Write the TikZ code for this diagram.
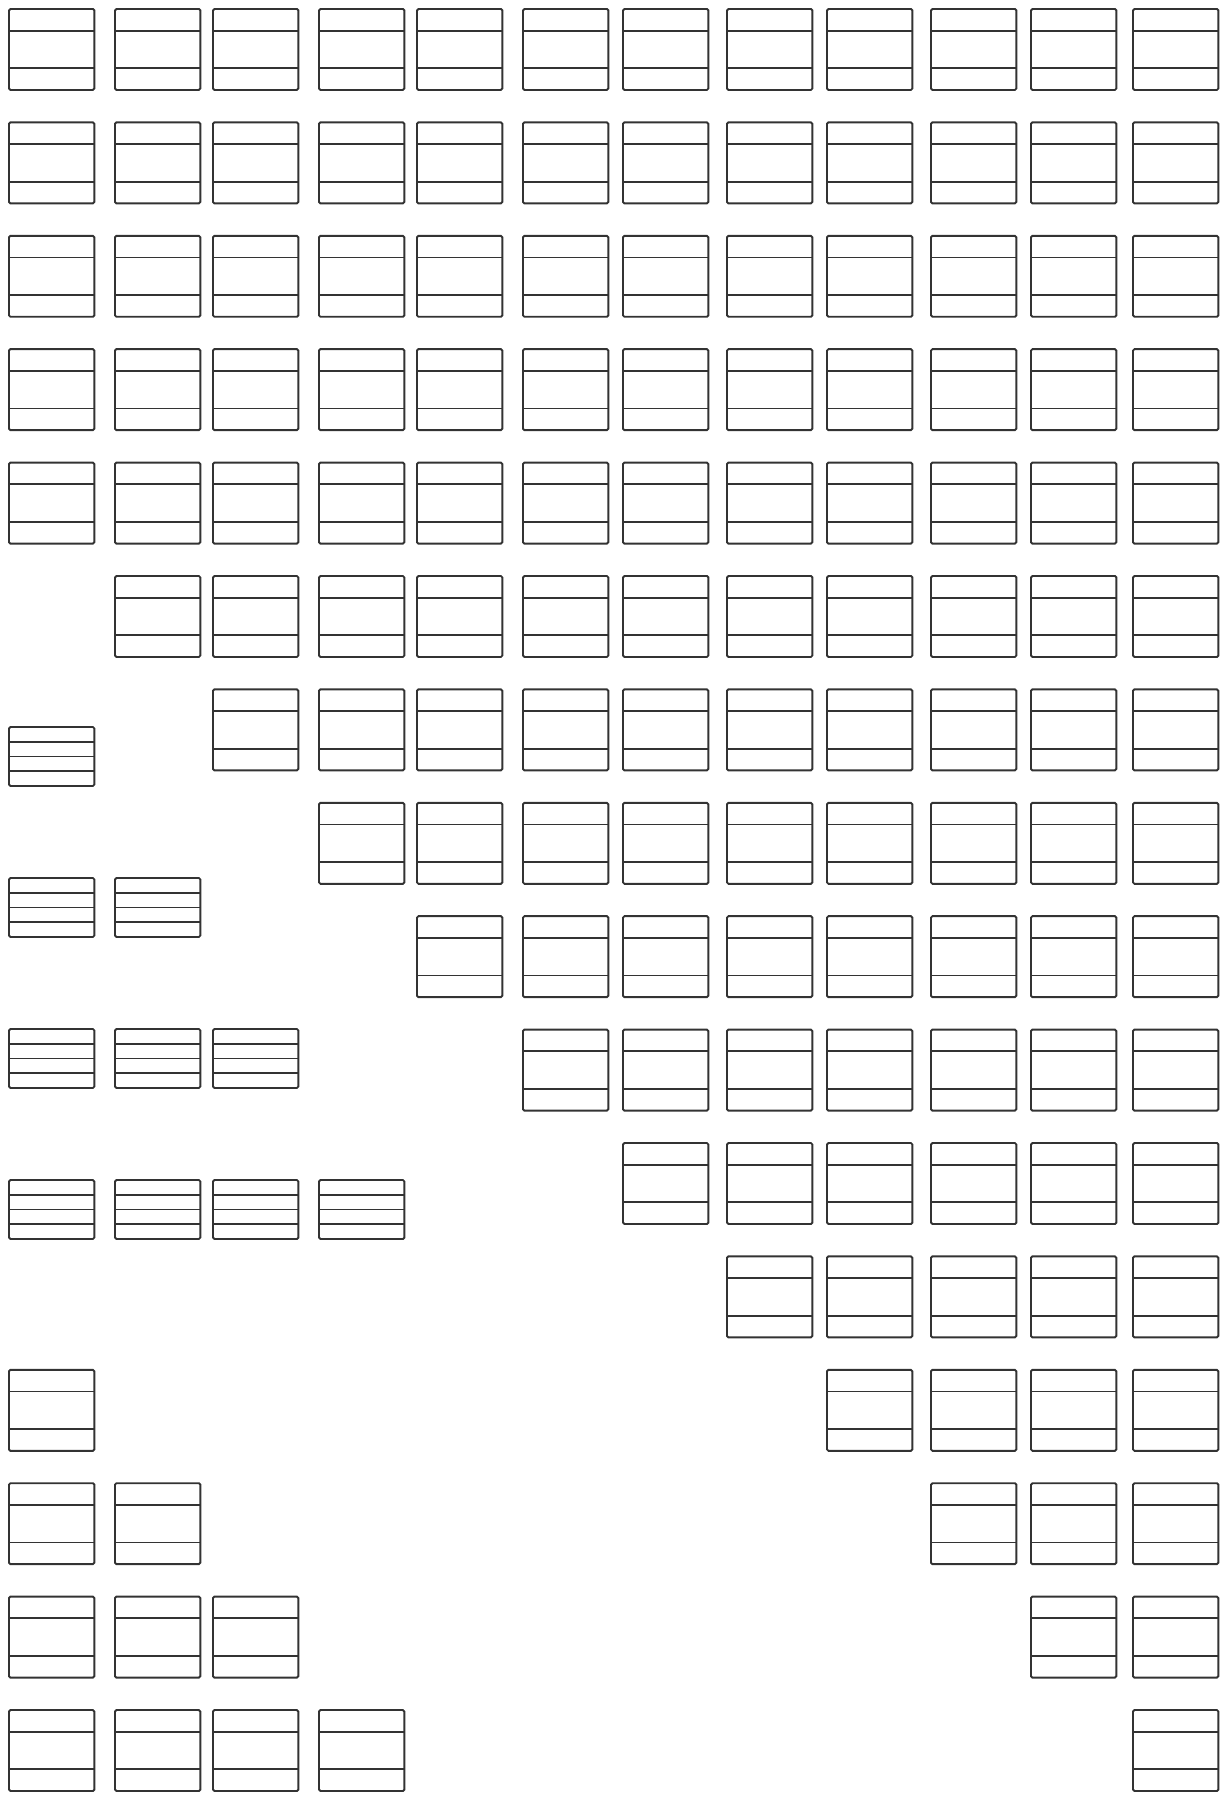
\documentclass[tikz,border=0pt]{standalone}
\usepackage{tikz}
\usetikzlibrary{calc}

\begin{document}
\begin{tikzpicture}[x=0.02cm, y=-0.02cm]
            \tikzstyle{card}=[draw=black!80, line width=1.1pt, rounded corners=0.8pt, minimum width=1.706cm, minimum height=1.62cm, inner sep=0pt, outer sep=0pt, anchor=north west]
            \tikzstyle{flat}=[card, minimum height=1.18cm]
            \tikzstyle{rule}=[draw=black!80, line width=1.1pt]
            \useasboundingbox (0,0) rectangle (1229,1794);
            % staircase of three-part cards
            \foreach \r in {0,...,15} {
                \pgfmathtruncatemacro{\first}{max(0,\r-4)}
                \pgfmathsetmacro{\y}{9+113.4*\r}
                \foreach \c in {\first,...,11} {
                    \pgfmathsetmacro{\x}{{9,115,213,319,417,523,623,727,827,931,1031,1133}[\c]}
                    \node[card] (c-\r-\c) at (\x,\y) {};
                    \draw[rule] ($(c-\r-\c.north west)!0.268!(c-\r-\c.south west)$) -- ($(c-\r-\c.north east)!0.268!(c-\r-\c.south east)$);
                    \draw[rule] ($(c-\r-\c.north west)!0.732!(c-\r-\c.south west)$) -- ($(c-\r-\c.north east)!0.732!(c-\r-\c.south east)$);
                }
            }
            % lower left three-part cards
            \foreach \r in {12,...,15} {
                \pgfmathtruncatemacro{\last}{\r-12}
                \pgfmathsetmacro{\y}{9+113.4*\r}
                \foreach \c in {0,...,\last} {
                    \pgfmathsetmacro{\x}{{9,115,213,319}[\c]}
                    \node[card] (l-\r-\c) at (\x,\y) {};
                    \draw[rule] ($(l-\r-\c.north west)!0.268!(l-\r-\c.south west)$) -- ($(l-\r-\c.north east)!0.268!(l-\r-\c.south east)$);
                    \draw[rule] ($(l-\r-\c.north west)!0.732!(l-\r-\c.south west)$) -- ($(l-\r-\c.north east)!0.732!(l-\r-\c.south east)$);
                }
            }
            % flat four-part cards
            \foreach \k/\y in {0/727, 1/878, 2/1029, 3/1180} {
                \foreach \c in {0,...,\k} {
                    \pgfmathsetmacro{\x}{{9,115,213,319}[\c]}
                    \node[flat] (f-\k-\c) at (\x,\y) {};
                    \foreach \t in {0.25,0.5,0.75}
                        \draw[rule] ($(f-\k-\c.north west)!\t!(f-\k-\c.south west)$) -- ($(f-\k-\c.north east)!\t!(f-\k-\c.south east)$);
                }
            }
        \end{tikzpicture}
\end{document}
